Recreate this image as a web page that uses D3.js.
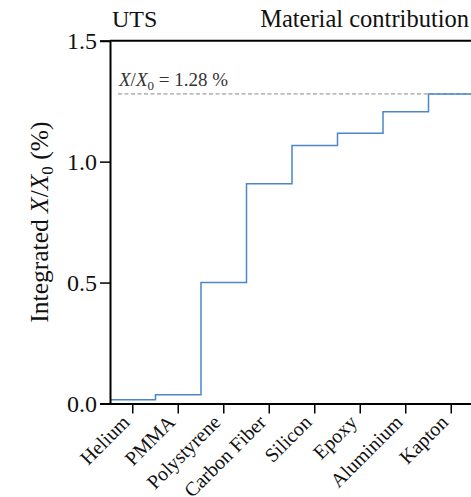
<!DOCTYPE html>
<html>
<head>
<meta charset="utf-8">
<script src="https://cdn.jsdelivr.net/npm/d3@7"></script>
<style>
  html, body { margin: 0; padding: 0; background: #fff; }
  svg { display: block; }
</style>
</head>
<body>
<svg id="chart" width="471" height="497"></svg>
<script>
const categories = ["Helium", "PMMA", "Polystyrene", "Carbon Fiber", "Silicon", "Epoxy", "Aluminium", "Kapton"];
const cumulative = [0.015, 0.036, 0.50, 0.909, 1.067, 1.117, 1.206, 1.28];
const yTicks = [0.0, 0.5, 1.0, 1.5];
const totalValue = 1.28;
const titleLeft = "UTS";
const titleRight = "Material contribution";

const FONT = '"Liberation Serif", "Times New Roman", Times, serif';
const svg = d3.select("#chart");
const margin = { left: 110, top: 40.7, bottom: 93.5 };
const plotW = 364;
const H = 497;
const x = d3.scaleBand().domain(categories).range([margin.left, margin.left + plotW]).padding(0);
const y = d3.scaleLinear().domain([0, 1.5]).range([H - margin.bottom, margin.top]);

// top frame line
svg.append("line")
  .attr("x1", margin.left).attr("x2", margin.left + plotW)
  .attr("y1", y(1.5)).attr("y2", y(1.5))
  .attr("stroke", "#000").attr("stroke-width", 2);

// dashed total line
svg.append("line")
  .attr("x1", margin.left + 8).attr("x2", margin.left + plotW)
  .attr("y1", y(totalValue)).attr("y2", y(totalValue))
  .attr("stroke", "#888").attr("stroke-width", 1).attr("stroke-dasharray", "4,2.5");

// step line
const pts = [];
categories.forEach((c, i) => {
  pts.push([x(c), y(cumulative[i])]);
  pts.push([x(c) + x.bandwidth(), y(cumulative[i])]);
});
svg.append("path")
  .attr("d", d3.line()(pts))
  .attr("fill", "none")
  .attr("stroke", "#4a86c8")
  .attr("stroke-width", 1.5);

// y axis
const yAxis = d3.axisLeft(y).tickValues(yTicks).tickFormat(d3.format(".1f")).tickSize(10).tickPadding(3);
const gy = svg.append("g").attr("transform", `translate(${margin.left},0)`).call(yAxis);
gy.select(".domain").attr("stroke-width", 2);
gy.selectAll(".tick line").attr("stroke-width", 1.5);
gy.selectAll(".tick text").attr("font-size", 24).style("font-family", FONT).attr("fill", "#111");

// x axis
const xAxis = d3.axisBottom(x).tickSize(10).tickSizeOuter(0);
const gx = svg.append("g").attr("transform", `translate(0,${y(0)})`).call(xAxis);
gx.select(".domain").attr("stroke-width", 2);
gx.selectAll(".tick line").attr("stroke-width", 1.5);
gx.selectAll(".tick text")
  .attr("font-size", 20)
  .style("font-family", FONT)
  .attr("fill", "#111")
  .attr("text-anchor", "end")
  .attr("dy", null)
  .attr("y", 0)
  .attr("transform", "translate(-2,20) rotate(-45)");

// titles
svg.append("text").attr("x", 112).attr("y", 27).attr("font-size", 24).style("font-family", FONT).attr("fill", "#111").text(titleLeft);
svg.append("text").attr("x", 469).attr("y", 27).attr("font-size", 24.5).style("font-family", FONT).attr("text-anchor", "end").attr("fill", "#111").text(titleRight);

// annotation
const ann = svg.append("text").attr("x", 119).attr("y", 86).attr("font-size", 19).style("font-family", FONT).attr("fill", "#333");
ann.append("tspan").attr("font-style", "italic").text("X");
ann.append("tspan").text("/");
ann.append("tspan").attr("font-style", "italic").text("X");
ann.append("tspan").attr("font-size", 13).attr("dy", 4).text("0");
ann.append("tspan").attr("dy", -4).text(` = ${totalValue.toFixed(2)} %`);

// y label
const yl = svg.append("text")
  .attr("transform", `translate(47.5,${(y(0) + y(1.5)) / 2}) rotate(-90)`)
  .attr("text-anchor", "middle").attr("font-size", 25.5).style("font-family", FONT).attr("fill", "#111");
yl.append("tspan").text("Integrated ");
yl.append("tspan").attr("font-style", "italic").text("X");
yl.append("tspan").text("/");
yl.append("tspan").attr("font-style", "italic").text("X");
yl.append("tspan").attr("font-size", 17).attr("dy", 5).text("0");
yl.append("tspan").attr("dy", -5).text(" (%)");
</script>
</body>
</html>
